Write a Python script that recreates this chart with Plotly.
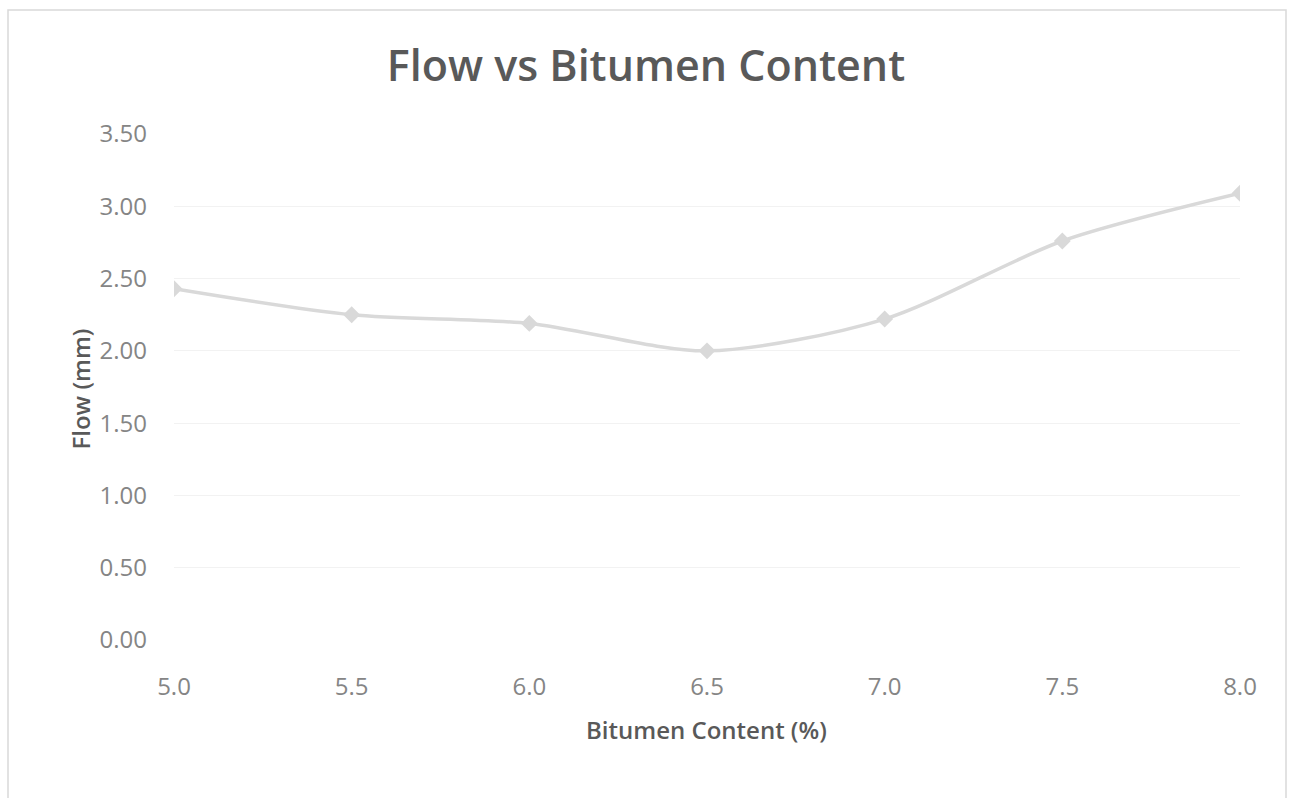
import plotly.graph_objects as go

# Marshall test: flow vs bitumen content
bitumen_content = [5.0, 5.5, 6.0, 6.5, 7.0, 7.5, 8.0]
flow_mm = [2.43, 2.25, 2.19, 2.00, 2.22, 2.76, 3.09]

x_ticks = [5.0, 5.5, 6.0, 6.5, 7.0, 7.5, 8.0]
x_tick_text = ["5.0", "5.5", "6.0", "6.5", "7.0", "7.5", "8.0"]
y_ticks = [0.0, 0.5, 1.0, 1.5, 2.0, 2.5, 3.0, 3.5]
y_tick_text = ["0.00", "0.50", "1.00", "1.50", "2.00", "2.50", "3.00", "3.50"]

W, H = 1292, 798
L, R, T, B = 174, 52, 134, 158
pw, ph = W - L - R, H - T - B

def px(xp):
    return (xp - L) / pw

def py(yp):
    return (H - B - yp) / ph

FONT = "Open Sans"
DARK = "#595959"
TICK = "#858585"
LINE = "#d9d9d9"

fig = go.Figure()
fig.add_trace(go.Scatter(
    x=bitumen_content, y=flow_mm, mode="lines+markers",
    line=dict(color=LINE, width=3.5, shape="spline", smoothing=0.8),
    marker=dict(symbol="diamond", size=13, color=LINE),
    showlegend=False, hoverinfo="x+y",
))

fig.update_layout(
    width=W, height=H,
    margin=dict(l=L, r=R, t=T, b=B),
    paper_bgcolor="white", plot_bgcolor="white",
    title=dict(text="Flow vs Bitumen Content", x=0.5, xanchor="center",
               y=1 - 66 / H, yanchor="middle",
               font=dict(family=FONT, size=43, color=DARK, weight=600)),
    xaxis=dict(range=[5.0, 8.0], tickvals=x_ticks, ticktext=x_tick_text,
               showgrid=False, zeroline=False, showline=False,
               ticks="", ticklabelstandoff=30,
               tickfont=dict(family=FONT, size=24, color=TICK)),
    yaxis=dict(range=[0, 3.5], tickvals=y_ticks, ticktext=y_tick_text,
               showgrid=True, gridcolor="#f2f2f2", gridwidth=1,
               zeroline=False, showline=False, ticks="", ticklabelstandoff=26,
               tickfont=dict(family=FONT, size=24, color=TICK)),
    annotations=[
        dict(text="Bitumen Content (%)", xref="paper", yref="paper",
             x=px(706), y=py(748), showarrow=False,
             font=dict(family=FONT, size=24, color=DARK, weight=600)),
        dict(text="Flow (mm)", xref="paper", yref="paper",
             x=px(61), y=py(389), showarrow=False, textangle=-90,
             font=dict(family=FONT, size=24, color=DARK, weight=600)),
    ],
    shapes=[
        dict(type="rect", xref="paper", yref="paper",
             x0=px(8), x1=px(1286), y0=py(805), y1=py(10),
             line=dict(color="#d9d9d9", width=1.5), layer="below"),
    ],
)

fig.write_html("out.html")
